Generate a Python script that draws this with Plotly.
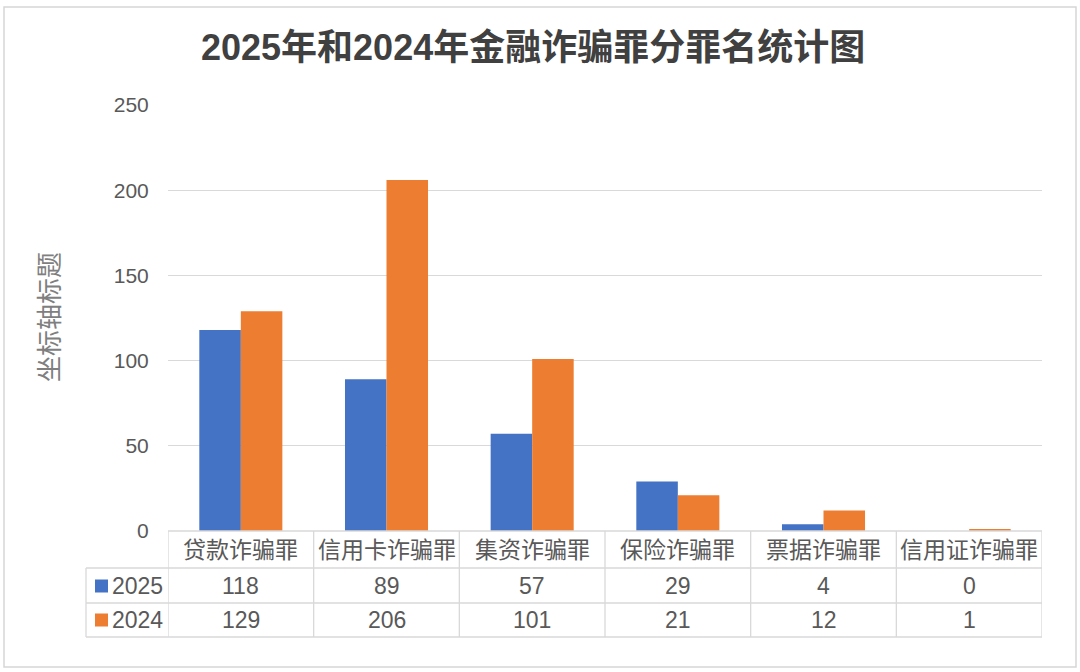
import plotly.graph_objects as go

categories = ["贷款诈骗罪", "信用卡诈骗罪", "集资诈骗罪", "保险诈骗罪", "票据诈骗罪", "信用证诈骗罪"]
series_names = ["2025", "2024"]
values_2025 = [118, 89, 57, 29, 4, 0]
values_2024 = [129, 206, 101, 21, 12, 1]
y_ticks = [0, 50, 100, 150, 200, 250]

title_text = "2025年和2024年金融诈骗罪分罪名统计图"
y_title = "坐标轴标题"

W, H = 1080, 672
L, R, T, B = 168, 1042, 105, 531
PW, PH = R - L, B - T

def px(x):
    return (x - L) / PW

def py(y):
    return (B - y) / PH

BLUE = "#4472C4"
ORANGE = "#ED7D31"
GRID = "#D9D9D9"
TXT = "#595959"
FONT = "Liberation Sans, Noto Sans CJK SC, sans-serif"

fig = go.Figure()
fig.add_trace(go.Bar(x=list(range(len(categories))), y=values_2025, name=series_names[0],
                     marker_color=BLUE, marker_line_width=0))
fig.add_trace(go.Bar(x=list(range(len(categories))), y=values_2024, name=series_names[1],
                     marker_color=ORANGE, marker_line_width=0))

shapes = []
# outer border
shapes.append(dict(type="rect", xref="paper", yref="paper", x0=px(4), x1=px(1076), y0=py(7), y1=py(667),
                   line=dict(color="#D6D6D6", width=1.5), layer="below"))
line_style = dict(color=GRID, width=1.3)
row_lines = [531, 568, 603, 637]
shapes.append(dict(type="line", xref="paper", yref="paper", x0=px(L), x1=px(R), y0=py(531), y1=py(531), line=line_style))
for yy in row_lines[1:]:
    shapes.append(dict(type="line", xref="paper", yref="paper", x0=px(86), x1=px(R), y0=py(yy), y1=py(yy), line=line_style))
shapes.append(dict(type="line", xref="paper", yref="paper", x0=px(86), x1=px(86), y0=py(568), y1=py(637), line=line_style))
for i in range(len(categories) + 1):
    shapes.append(dict(type="line", xref="x", yref="paper", x0=i - 0.5, x1=i - 0.5, y0=py(531), y1=py(637), line=line_style))

annotations = []
cat_font = dict(family=FONT, size=23, color=TXT)
num_font = dict(family=FONT, size=23, color=TXT)
row_y = [586, 620]
for i, c in enumerate(categories):
    annotations.append(dict(x=i, y=py(550), xref="x", yref="paper", text=c, showarrow=False,
                            font=cat_font, xanchor="center", yanchor="middle"))
    annotations.append(dict(x=i, y=py(row_y[0]), xref="x", yref="paper", text=str(values_2025[i]), showarrow=False,
                            font=num_font, xanchor="center", yanchor="middle"))
    annotations.append(dict(x=i, y=py(row_y[1]), xref="x", yref="paper", text=str(values_2024[i]), showarrow=False,
                            font=num_font, xanchor="center", yanchor="middle"))
for name, color, yy in [(series_names[0], BLUE, row_y[0]), (series_names[1], ORANGE, row_y[1])]:
    shapes.append(dict(type="rect", xref="paper", yref="paper", x0=px(95), x1=px(108),
                       y0=py(yy - 6.5), y1=py(yy + 6.5), fillcolor=color, line=dict(width=0)))
    annotations.append(dict(x=px(110), y=py(yy), xref="paper", yref="paper",
                            text=name, showarrow=False,
                            font=num_font, xanchor="left", yanchor="middle"))
annotations.append(dict(x=px(50), y=py(317), xref="paper", yref="paper", text=y_title, textangle=-90,
                        showarrow=False, font=dict(family=FONT, size=26, color="#7F7F7F"),
                        xanchor="center", yanchor="middle"))
annotations.append(dict(x=px(533), y=py(48), xref="paper", yref="paper", text=f"<b>{title_text}</b>",
                        showarrow=False, font=dict(family=FONT, size=36, color="#404040"),
                        xanchor="center", yanchor="middle"))

fig.update_layout(
    width=W, height=H,
    margin=dict(l=L, r=W - R, t=T, b=H - B),
    paper_bgcolor="white", plot_bgcolor="white",
    barmode="group", bargap=0.43, bargroupgap=0,
    showlegend=False,
    shapes=shapes, annotations=annotations,
    xaxis=dict(range=[-0.5, len(categories) - 0.5], showticklabels=False, showgrid=False,
               zeroline=False, showline=False, ticks=""),
    yaxis=dict(range=[0, 250], tickvals=y_ticks, showgrid=True, gridcolor=GRID, gridwidth=1,
               zeroline=False, showline=False, ticks="outside", ticklen=14, tickcolor="rgba(0,0,0,0)",
               tickfont=dict(family=FONT, size=21, color=TXT)),
)
fig.write_html("out.html")
